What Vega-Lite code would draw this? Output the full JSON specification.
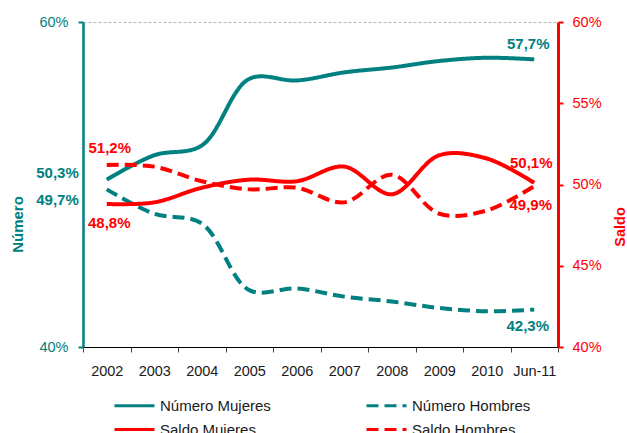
{
  "$schema": "https://vega.github.io/schema/vega-lite/v6.json",
  "autosize": "none",
  "width": 475,
  "height": 325,
  "padding": {"left": 83, "top": 22, "right": 69, "bottom": 86},
  "background": "white",
  "config": {
    "view": {"stroke": null},
    "font": "Liberation Sans",
    "locale": {"number": {"decimal": ",", "thousands": ".", "grouping": [3], "currency": ["", " €"]}}
  },
  "data": {
    "values": [
      {"periodo": "2002", "serie": "Número Mujeres", "valor": 0.503},
      {"periodo": "2003", "serie": "Número Mujeres", "valor": 0.518},
      {"periodo": "2004", "serie": "Número Mujeres", "valor": 0.524},
      {"periodo": "2005", "serie": "Número Mujeres", "valor": 0.565},
      {"periodo": "2006", "serie": "Número Mujeres", "valor": 0.564},
      {"periodo": "2007", "serie": "Número Mujeres", "valor": 0.569},
      {"periodo": "2008", "serie": "Número Mujeres", "valor": 0.572},
      {"periodo": "2009", "serie": "Número Mujeres", "valor": 0.576},
      {"periodo": "2010", "serie": "Número Mujeres", "valor": 0.578},
      {"periodo": "Jun-11", "serie": "Número Mujeres", "valor": 0.577},
      {"periodo": "2002", "serie": "Número Hombres", "valor": 0.497},
      {"periodo": "2003", "serie": "Número Hombres", "valor": 0.482},
      {"periodo": "2004", "serie": "Número Hombres", "valor": 0.476},
      {"periodo": "2005", "serie": "Número Hombres", "valor": 0.435},
      {"periodo": "2006", "serie": "Número Hombres", "valor": 0.436},
      {"periodo": "2007", "serie": "Número Hombres", "valor": 0.431},
      {"periodo": "2008", "serie": "Número Hombres", "valor": 0.428},
      {"periodo": "2009", "serie": "Número Hombres", "valor": 0.424},
      {"periodo": "2010", "serie": "Número Hombres", "valor": 0.422},
      {"periodo": "Jun-11", "serie": "Número Hombres", "valor": 0.423},
      {"periodo": "2002", "serie": "Saldo Mujeres", "valor": 0.488},
      {"periodo": "2003", "serie": "Saldo Mujeres", "valor": 0.489},
      {"periodo": "2004", "serie": "Saldo Mujeres", "valor": 0.498},
      {"periodo": "2005", "serie": "Saldo Mujeres", "valor": 0.503},
      {"periodo": "2006", "serie": "Saldo Mujeres", "valor": 0.502},
      {"periodo": "2007", "serie": "Saldo Mujeres", "valor": 0.511},
      {"periodo": "2008", "serie": "Saldo Mujeres", "valor": 0.494},
      {"periodo": "2009", "serie": "Saldo Mujeres", "valor": 0.518},
      {"periodo": "2010", "serie": "Saldo Mujeres", "valor": 0.516},
      {"periodo": "Jun-11", "serie": "Saldo Mujeres", "valor": 0.501},
      {"periodo": "2002", "serie": "Saldo Hombres", "valor": 0.512},
      {"periodo": "2003", "serie": "Saldo Hombres", "valor": 0.511},
      {"periodo": "2004", "serie": "Saldo Hombres", "valor": 0.502},
      {"periodo": "2005", "serie": "Saldo Hombres", "valor": 0.497},
      {"periodo": "2006", "serie": "Saldo Hombres", "valor": 0.498},
      {"periodo": "2007", "serie": "Saldo Hombres", "valor": 0.489},
      {"periodo": "2008", "serie": "Saldo Hombres", "valor": 0.506},
      {"periodo": "2009", "serie": "Saldo Hombres", "valor": 0.482},
      {"periodo": "2010", "serie": "Saldo Hombres", "valor": 0.484},
      {"periodo": "Jun-11", "serie": "Saldo Hombres", "valor": 0.499}
    ]
  },
  "encoding": {
    "x": {
      "field": "periodo", "type": "ordinal", "sort": null,
      "scale": {"type": "band", "paddingInner": 0, "paddingOuter": 0},
      "axis": {
        "title": null, "labelAngle": 0, "tickBand": "extent",
        "domainColor": "#000000", "domainWidth": 1,
        "tickColor": "#444444", "tickSize": 5, "labelPadding": 12,
        "labelFontSize": 14.5, "labelColor": "#1a1a1a", "labelFont": "Liberation Sans",
        "grid": false
      }
    }
  },
  "layer": [
    {
      "transform": [{"filter": "indexof(datum.serie, 'Número') === 0"}],
      "encoding": {
        "y": {
          "field": "valor", "type": "quantitative",
          "scale": {"domain": [0.4, 0.6], "zero": false, "nice": false},
          "axis": {
            "orient": "left", "values": [0.4, 0.6], "format": ".0%",
            "title": "Número", "titleColor": "#008080", "titleFontSize": 15, "titleFontWeight": "bold",
            "titleFont": "Liberation Sans",
            "titleAngle": 270, "titleX": -66, "titleY": 202, "titleAlign": "center", "titleBaseline": "middle",
            "domainColor": "#008080", "domainWidth": 2.5,
            "tickColor": "#008080", "tickWidth": 2, "tickSize": 5,
            "labelColor": "#008080", "labelFontSize": 14.5, "labelPadding": 10, "labelFont": "Liberation Sans",
            "grid": true, "gridColor": "#b5b5b5", "gridDash": [3, 2], "gridWidth": 1
          }
        }
      },
      "layer": [
        {
          "mark": {"type": "line", "interpolate": "catmull-rom", "strokeWidth": 4, "strokeCap": "butt"},
          "encoding": {
            "color": {
              "field": "serie", "type": "nominal",
              "scale": {"domain": ["Número Mujeres", "Número Hombres", "Saldo Mujeres", "Saldo Hombres"],
                        "range": ["#008080", "#008080", "#ff0000", "#ff0000"]},
              "legend": {
                "orient": "none", "legendX": 30, "legendY": 374, "direction": "horizontal", "columns": 2,
                "title": null, "labelFontSize": 15, "labelColor": "#1a1a1a", "labelFont": "Liberation Sans",
                "symbolType": "M-1,0H4", "symbolSize": 256, "symbolStrokeWidth": 3, "symbolFillColor": "transparent",
                "labelOffset": 28, "columnPadding": 89, "rowPadding": 6,
                "encode": {"symbols": {"update": {"strokeDash": {"signal": "indexof(datum.value, 'Hombres') >= 0 ? [7, 4] : [1, 0]"}}}}
              }
            },
            "strokeDash": {
              "field": "serie", "type": "nominal",
              "scale": {"domain": ["Número Mujeres", "Número Hombres", "Saldo Mujeres", "Saldo Hombres"],
                        "range": [[1, 0], [12, 6], [1, 0], [12, 6]]},
              "legend": null
            }
          }
        },
        {
          "transform": [{"filter": "datum.serie === 'Número Mujeres' && datum.periodo === '2002'"}],
          "mark": {"type": "text", "align": "right", "baseline": "middle", "dx": -28, "dy": -7, "fontSize": 15, "fontWeight": "bold", "color": "#008080"},
          "encoding": {"text": {"field": "valor", "type": "quantitative", "format": ".1%"}}
        },
        {
          "transform": [{"filter": "datum.serie === 'Número Hombres' && datum.periodo === '2002'"}],
          "mark": {"type": "text", "align": "right", "baseline": "middle", "dx": -28, "dy": 11, "fontSize": 15, "fontWeight": "bold", "color": "#008080"},
          "encoding": {"text": {"field": "valor", "type": "quantitative", "format": ".1%"}}
        },
        {
          "transform": [{"filter": "datum.serie === 'Número Mujeres' && datum.periodo === 'Jun-11'"}],
          "mark": {"type": "text", "align": "center", "baseline": "middle", "dx": -6, "dy": -15.5, "fontSize": 15, "fontWeight": "bold", "color": "#008080"},
          "encoding": {"text": {"field": "valor", "type": "quantitative", "format": ".1%"}}
        },
        {
          "transform": [{"filter": "datum.serie === 'Número Hombres' && datum.periodo === 'Jun-11'"}],
          "mark": {"type": "text", "align": "center", "baseline": "middle", "dx": -6.5, "dy": 16.5, "fontSize": 15, "fontWeight": "bold", "color": "#008080"},
          "encoding": {"text": {"field": "valor", "type": "quantitative", "format": ".1%"}}
        }
      ]
    },
    {
      "transform": [{"filter": "indexof(datum.serie, 'Saldo') === 0"}],
      "encoding": {
        "y": {
          "field": "valor", "type": "quantitative",
          "scale": {"domain": [0.4, 0.6], "zero": false, "nice": false},
          "axis": {
            "orient": "right", "values": [0.4, 0.45, 0.5, 0.55, 0.6], "format": ".0%",
            "title": "Saldo", "titleColor": "#ff0000", "titleFontSize": 14.5, "titleFontWeight": "bold",
            "titleFont": "Liberation Sans",
            "titleAngle": 270, "titleX": 62, "titleY": 204.5, "titleAlign": "center", "titleBaseline": "middle",
            "domainColor": "#ff0000", "domainWidth": 3,
            "tickColor": "#ff0000", "tickWidth": 2, "tickSize": 5,
            "labelColor": "#ff0000", "labelFontSize": 14.5, "labelPadding": 9, "labelFont": "Liberation Sans",
            "grid": false
          }
        }
      },
      "layer": [
        {
          "mark": {"type": "line", "interpolate": "catmull-rom", "strokeWidth": 4, "strokeCap": "butt"},
          "encoding": {
            "color": {"field": "serie", "type": "nominal"},
            "strokeDash": {"field": "serie", "type": "nominal", "legend": null}
          }
        },
        {
          "transform": [{"filter": "datum.serie === 'Saldo Hombres' && datum.periodo === '2002'"}],
          "mark": {"type": "text", "align": "center", "baseline": "middle", "dx": 3, "dy": -17.5, "fontSize": 15, "fontWeight": "bold", "color": "#ff0000"},
          "encoding": {"text": {"field": "valor", "type": "quantitative", "format": ".1%"}}
        },
        {
          "transform": [{"filter": "datum.serie === 'Saldo Mujeres' && datum.periodo === '2002'"}],
          "mark": {"type": "text", "align": "center", "baseline": "middle", "dx": 2.5, "dy": 18.5, "fontSize": 15, "fontWeight": "bold", "color": "#ff0000"},
          "encoding": {"text": {"field": "valor", "type": "quantitative", "format": ".1%"}}
        },
        {
          "transform": [{"filter": "datum.serie === 'Saldo Mujeres' && datum.periodo === 'Jun-11'"}],
          "mark": {"type": "text", "align": "center", "baseline": "middle", "dx": -3, "dy": -20, "fontSize": 15, "fontWeight": "bold", "color": "#ff0000"},
          "encoding": {"text": {"field": "valor", "type": "quantitative", "format": ".1%"}}
        },
        {
          "transform": [{"filter": "datum.serie === 'Saldo Hombres' && datum.periodo === 'Jun-11'"}],
          "mark": {"type": "text", "align": "center", "baseline": "middle", "dx": -3.5, "dy": 18.5, "fontSize": 15, "fontWeight": "bold", "color": "#ff0000"},
          "encoding": {"text": {"field": "valor", "type": "quantitative", "format": ".1%"}}
        }
      ]
    }
  ],
  "resolve": {"scale": {"y": "independent"}, "axis": {"y": "independent"}}
}
